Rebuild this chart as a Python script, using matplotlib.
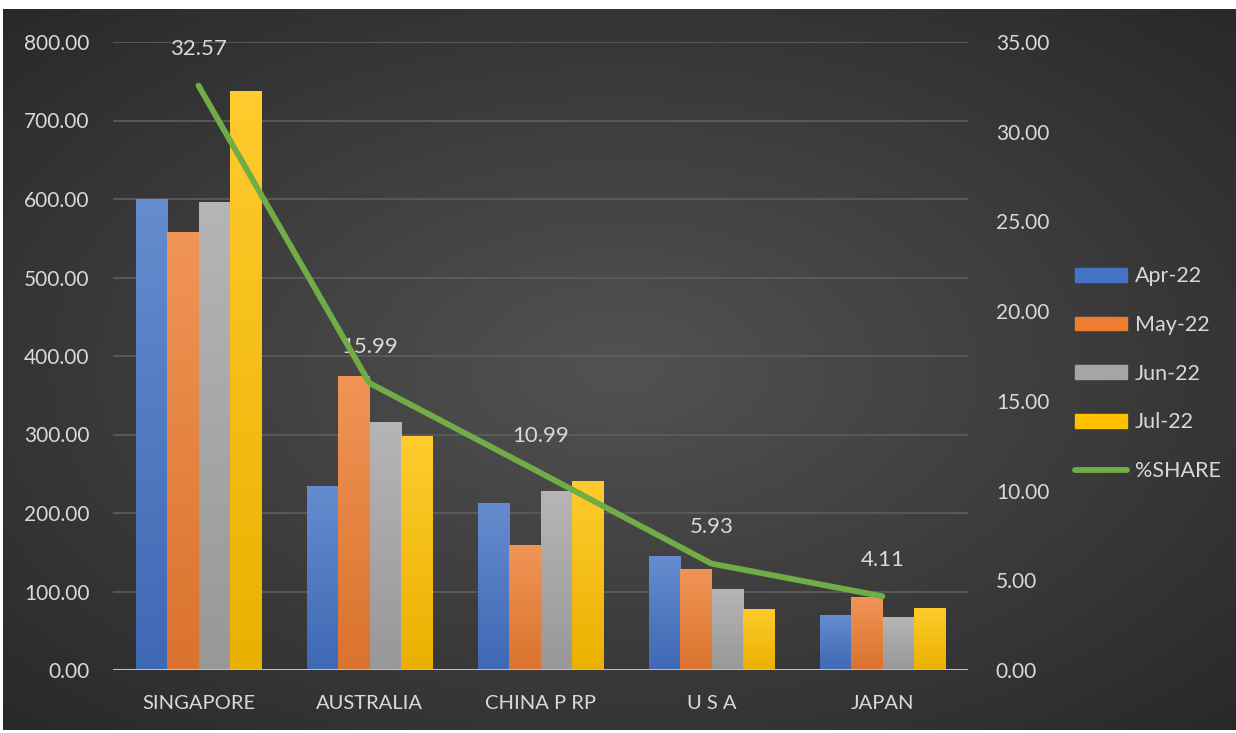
import numpy as np
import matplotlib
matplotlib.use("Agg")
import matplotlib.pyplot as plt
from matplotlib.colors import to_rgb
from matplotlib.patches import Patch
from matplotlib.lines import Line2D

categories = ["SINGAPORE", "AUSTRALIA", "CHINA P RP", "U S A", "JAPAN"]
apr22 = [600, 234, 213, 145, 70]
may22 = [558, 375, 159, 129, 93]
jun22 = [596, 316, 228, 103, 67]
jul22 = [737, 298, 241, 78, 79]
share = [32.57, 15.99, 10.99, 5.93, 4.11]
series_names = ["Apr-22", "May-22", "Jun-22", "Jul-22"]
colors = ["#4472C4", "#ED7D31", "#A5A5A5", "#FFC000"]

W, H = 1236, 733
fig = plt.figure(figsize=(W / 100, H / 100), dpi=100)
fig.patch.set_facecolor("white")

# background radial gradient
bg = fig.add_axes([3 / W, 1 - 730 / H, (W - 3) / W, (730 - 9) / H])
yy, xx = np.mgrid[0:1:300j, 0:1:500j]
r = np.sqrt(((xx - 0.5) / 0.75) ** 2 + ((yy - 0.5) / 0.75) ** 2)
val = np.clip(1 - r, 0, 1)
c0 = np.array([0x26, 0x26, 0x26]) / 255
c1 = np.array([0x52, 0x52, 0x52]) / 255
img = c0[None, None, :] + (c1 - c0)[None, None, :] * val[:, :, None]
bg.imshow(img, aspect="auto", extent=[0, 1, 0, 1], interpolation="bilinear")
bg.axis("off")

font = "Lato"
tc = "#D9D9D9"

ax = fig.add_axes([113 / W, 1 - 670 / H, (968 - 113) / W, (670 - 42) / H])
ax.patch.set_alpha(0)
x = np.arange(len(categories))
bw = 0.183
for i, (vals, name, col) in enumerate(zip([apr22, may22, jun22, jul22], series_names, colors)):
    bars = ax.bar(x + (i - 1.5) * bw, vals, width=bw, color=col, label=name, zorder=3)
    base = np.array(to_rgb(col))
    top = base + (1 - base) * 0.18
    bot = base * 0.92
    grad = np.linspace(0, 1, 64)[:, None, None]
    gimg = top[None, None, :] * (1 - grad) + bot[None, None, :] * grad
    for b in bars:
        bx, by = b.get_x(), b.get_y()
        bwid, bh = b.get_width(), b.get_height()
        im = ax.imshow(gimg, extent=[bx, bx + bwid, by, by + bh], aspect="auto",
                       interpolation="bilinear", zorder=3.1, origin="upper")
        im.set_clip_path(b)

ax.set_xlim(-0.5, len(categories) - 0.5)
ax.set_ylim(0, 800)
ax.set_aspect("auto")
ax.set_yticks(np.arange(0, 801, 100))
ax.set_yticklabels([f"{v:.2f}" for v in np.arange(0, 801, 100)], fontsize=15, color=tc, family=font)
ax.set_xticks(x)
ax.set_xticklabels(categories, fontsize=14.5, color=tc, family=font)
ax.tick_params(axis="both", length=0)
ax.tick_params(axis="y", pad=17)
ax.tick_params(axis="x", pad=18)
ax.grid(axis="y", color="#5E5E5E", linewidth=1.2, zorder=0)
for s in ax.spines.values():
    s.set_visible(False)
ax.axhline(0, color="#BFBFBF", linewidth=2.2, zorder=4)

ax2 = ax.twinx()
ax2.set_ylim(0, 35)
ax2.set_yticks(np.arange(0, 36, 5))
ax2.set_yticklabels([f"{v:.2f}" for v in np.arange(0, 36, 5)], fontsize=15, color=tc, family=font)
ax2.tick_params(axis="y", length=0, pad=20)
for s in ax2.spines.values():
    s.set_visible(False)
ax2.plot(x, share, color="#70AD47", linewidth=4.2, solid_capstyle="round",
         solid_joinstyle="round", label="%SHARE", zorder=5)
for xi, v in zip(x, share):
    ax2.annotate(f"{v:.2f}", (xi, v), xytext=(0, 19), textcoords="offset points",
                 ha="center", va="bottom", fontsize=16, color=tc, family=font)

handles = [Patch(color=c) for c in colors] + [Line2D([0], [0], color="#70AD47", lw=4.2, solid_capstyle="round")]
leg = fig.legend(handles, series_names + ["%SHARE"], loc="upper left",
                 bbox_to_anchor=(1056 / W, 1 - 247 / H), frameon=False,
                 prop={"family": font, "size": 15.5}, labelcolor=tc,
                 handlelength=2.4, handleheight=0.6, labelspacing=1.33, handletextpad=0.35)

fig.savefig("out.png", dpi=100, facecolor=fig.get_facecolor())
